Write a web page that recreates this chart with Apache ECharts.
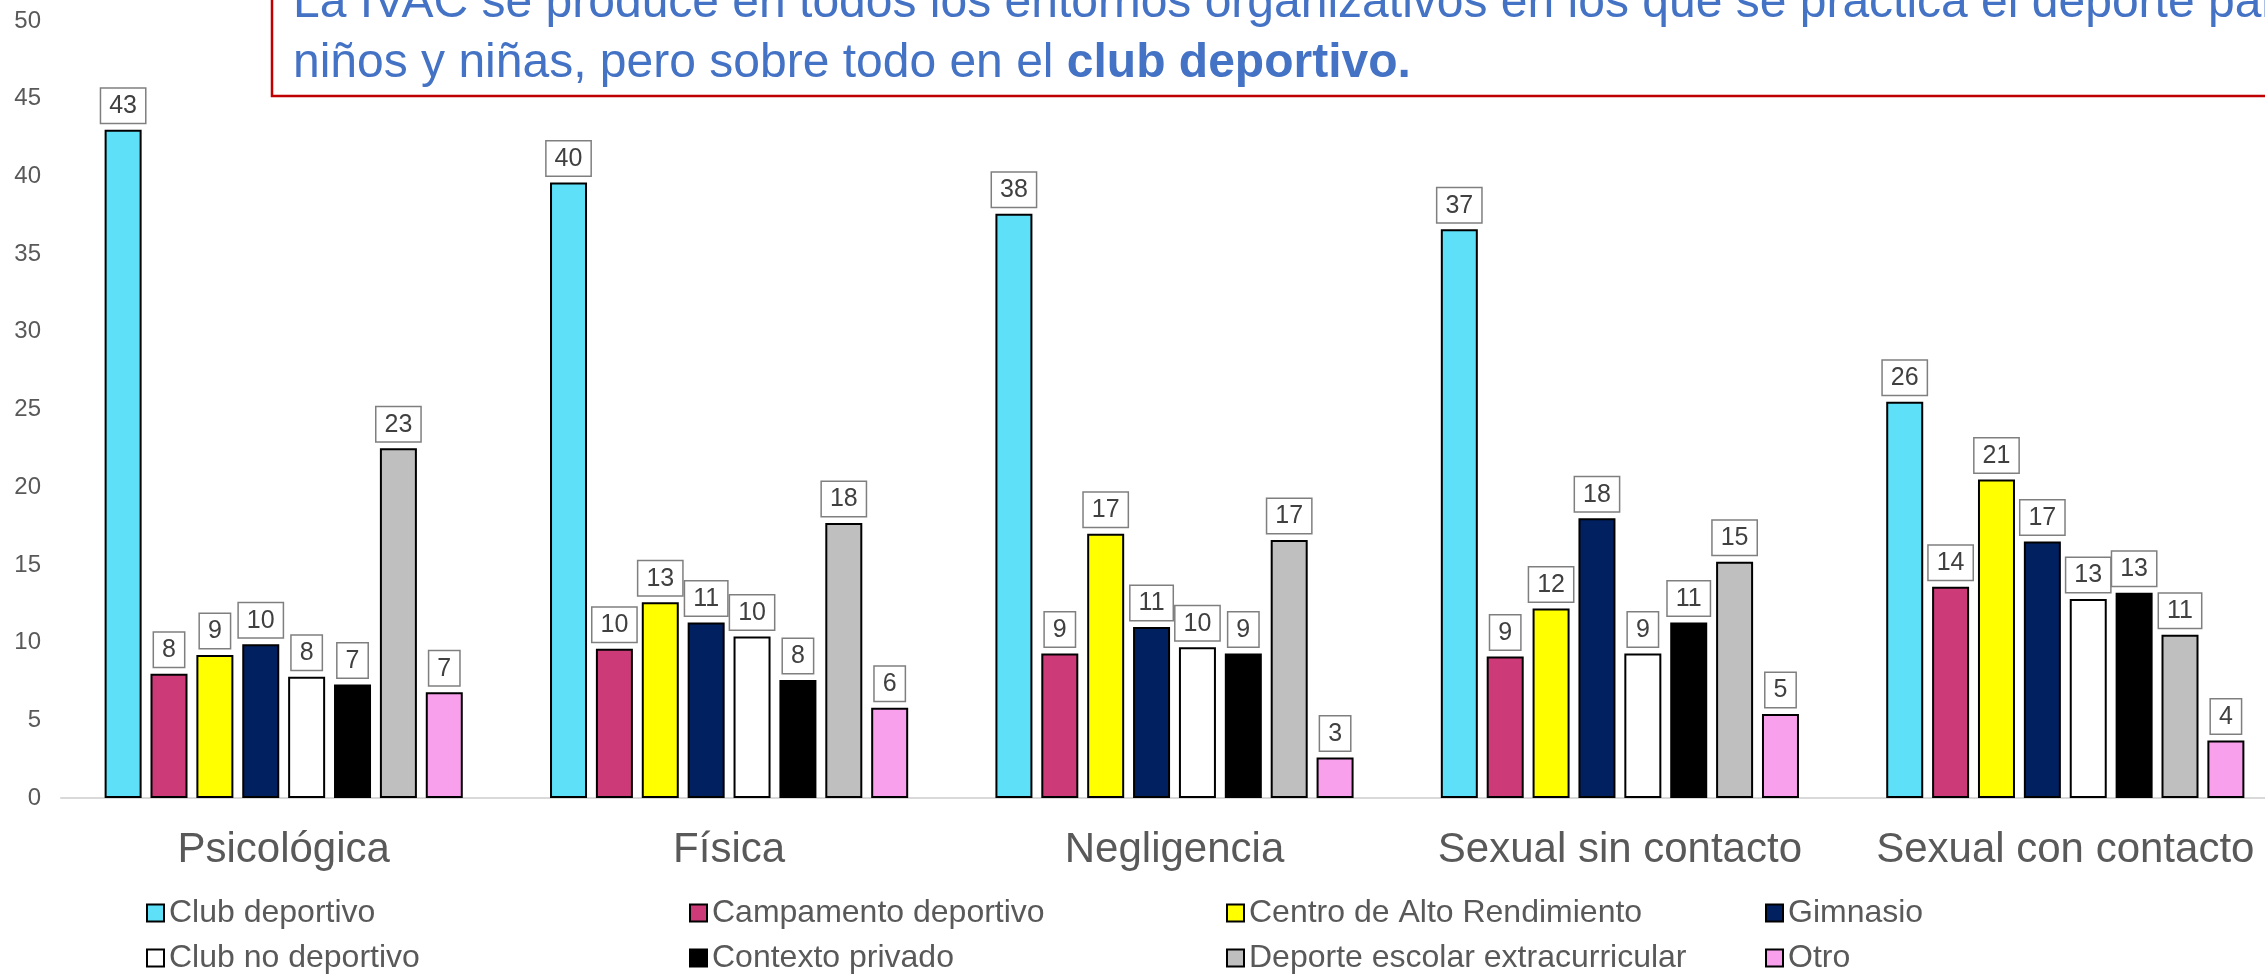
<!DOCTYPE html>
<html>
<head>
<meta charset="utf-8">
<title>IVAC por entorno</title>
<script src="https://cdn.jsdelivr.net/npm/echarts@6/dist/echarts.min.js"></script>
<style>
  html, body { margin: 0; padding: 0; background: #fff; }
  #chart { width: 2265px; height: 974px; }
</style>
</head>
<body>
<div id="chart"></div>
<script>
// tipos de violencia
const categories = ['Psicológica', 'Física', 'Negligencia', 'Sexual sin contacto', 'Sexual con contacto']

// entornos (series) and their values
const clubDeportivo = [43.0, 39.6, 37.6, 36.6, 25.5]
const campamento = [8.0, 9.6, 9.3, 9.1, 13.6]
const altoRendimiento = [9.2, 12.6, 17.0, 12.2, 20.5]
const gimnasio = [9.9, 11.3, 11.0, 18.0, 16.5]
const clubNoDeportivo = [7.8, 10.4, 9.7, 9.3, 12.8]
const contextoPrivado = [7.3, 7.6, 9.3, 11.3, 13.2]
const escolar = [22.5, 17.7, 16.6, 15.2, 10.5]
const otro = [6.8, 5.8, 2.6, 5.4, 3.7]

const yTicks = { min: 0, max: 50, interval: 5 }

const seriesDefs = [
    { name: 'Club deportivo', data: clubDeportivo, color: '#5DE0F8' },
    { name: 'Campamento deportivo', data: campamento, color: '#CC3A78' },
    { name: 'Centro de Alto Rendimiento', data: altoRendimiento, color: '#FFFF00' },
    { name: 'Gimnasio', data: gimnasio, color: '#002060' },
    { name: 'Club no deportivo', data: clubNoDeportivo, color: '#FFFFFF' },
    { name: 'Contexto privado', data: contextoPrivado, color: '#000000' },
    { name: 'Deporte escolar extracurricular', data: escolar, color: '#BFBFBF' },
    { name: 'Otro', data: otro, color: '#F9A0EC' }
]

const FONT = '"Liberation Sans", Arial, sans-serif'
const GREY_TEXT = '#595959'
const BLUE_TEXT = '#4472C4'

// legend is laid out in 4 columns of 2 rows
const legendCols = [
    { left: 146, names: ['Club deportivo', 'Club no deportivo'] },
    { left: 689, names: ['Campamento deportivo', 'Contexto privado'] },
    { left: 1226, names: ['Centro de Alto Rendimiento', 'Deporte escolar extracurricular'] },
    { left: 1765, names: ['Gimnasio', 'Otro'] }
]

const myChart = echarts.init(document.getElementById('chart'), null, { renderer: 'canvas' })

const option = {
    animation: false,
    backgroundColor: '#fff',
    textStyle: { fontFamily: FONT },
    grid: {
        left: 61,
        top: 21,
        width: 2227,   // the last group runs off the right edge, like the source
        bottom: 176,
        outerBoundsMode: 'none'
    },
    xAxis: {
        type: 'category',
        data: categories,
        axisTick: { show: false },
        axisLine: { lineStyle: { color: '#D9D9D9', width: 2 } },
        axisLabel: {
            interval: 0,
            color: GREY_TEXT,
            fontSize: 42,
            fontFamily: FONT,
            margin: 31
        }
    },
    yAxis: {
        type: 'value',
        min: yTicks.min,
        max: yTicks.max,
        interval: yTicks.interval,
        splitLine: { show: false },
        axisLine: { show: false },
        axisTick: { show: false },
        axisLabel: {
            color: GREY_TEXT,
            fontSize: 24,
            fontFamily: FONT,
            margin: 20
        }
    },
    legend: legendCols.map(col => ({
        orient: 'vertical',
        left: col.left,
        top: 897,
        data: col.names,
        icon: 'rect',
        itemWidth: 17,
        itemHeight: 17,
        itemGap: 13,
        padding: 0,
        textStyle: {
            color: GREY_TEXT,
            fontSize: 32,
            lineHeight: 32,
            fontFamily: FONT
        }
    })),
    series: seriesDefs.map(s => ({
        name: s.name,
        type: 'bar',
        data: s.data,
        barWidth: 37,
        barGap: '24%',
        itemStyle: {
            color: s.color,
            borderColor: '#000',
            borderWidth: 2
        },
        label: {
            show: true,
            position: 'top',
            distance: 7,
            formatter: p => Math.round(p.value),
            color: '#404040',
            fontSize: 25,
            fontFamily: FONT,
            backgroundColor: '#fff',
            borderColor: '#7F7F7F',
            borderWidth: 1.5,
            padding: [5, 8, 4, 8]
        }
    })),
    graphic: [
        {
            type: 'rect',
            z: 100,
            shape: { x: 272, y: -120, width: 2100, height: 216 },
            style: { fill: '#fff', stroke: '#C00000', lineWidth: 2.5 }
        },
        {
            type: 'text',
            z: 101,
            x: 293,
            y: 94,
            style: {
                text: '{n|La IVAC se produce en todos los entornos organizativos en los que se practica el deporte para}\n' +
                      '{n|niños y niñas, pero sobre todo en el }{b|club deportivo.}',
                verticalAlign: 'bottom',
                align: 'left',
                fill: BLUE_TEXT,
                rich: {
                    n: { fontSize: 48, lineHeight: 60, fill: BLUE_TEXT, color: BLUE_TEXT, fontFamily: FONT },
                    b: { fontSize: 48, lineHeight: 60, fill: BLUE_TEXT, color: BLUE_TEXT, fontWeight: 'bold', fontFamily: FONT }
                }
            }
        }
    ]
}

myChart.setOption(option)
</script>
</body>
</html>
